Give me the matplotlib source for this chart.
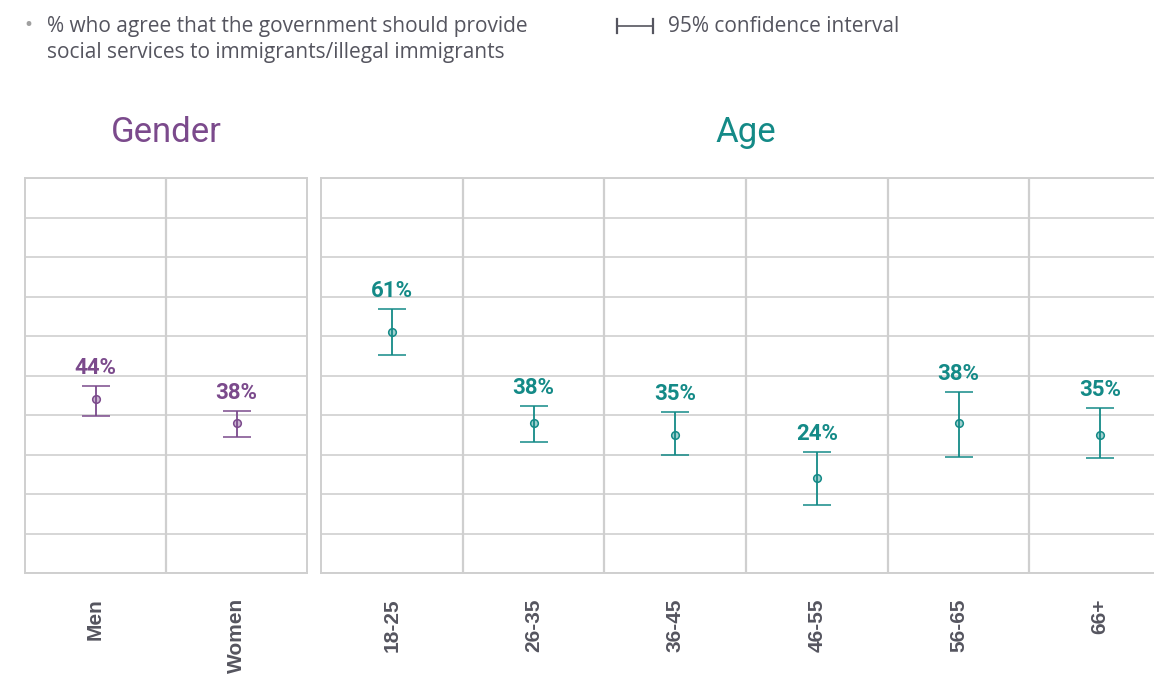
import matplotlib.pyplot as plt
from matplotlib.lines import Line2D

# Data
gender_groups = ["Men", "Women"]
gender_values = [44, 38]
gender_lower = [39.8, 34.4]
gender_upper = [47.3, 41.1]

age_groups = ["18-25", "26-35", "36-45", "46-55", "56-65", "66+"]
age_values = [61, 38, 35, 24, 38, 35]
age_lower = [55.1, 33.1, 29.9, 17.3, 29.3, 29.0]
age_upper = [66.9, 42.3, 40.8, 30.7, 45.8, 41.7]

PURPLE = "#7b4a8c"
TEAL = "#148a87"
GRID = "#cfcfcf"
TEXT = "#55555f"

plt.rcParams["font.family"] = ["Roboto", "DejaVu Sans"]

W, H = 1154, 675
fig = plt.figure(figsize=(W / 100, H / 100), dpi=100)

ax_g = fig.add_axes([25 / W, 102 / H, 282 / W, 395 / H])
ax_a = fig.add_axes([321 / W, 102 / H, 850 / W, 395 / H])


def draw_panel(ax, groups, values, lower, upper, color, title):
    x = list(range(len(groups)))
    yerr = [[v - lo for v, lo in zip(values, lower)],
            [hi - v for v, hi in zip(values, upper)]]
    ax.errorbar(x, values, yerr=yerr, fmt="o", color=color, ecolor=color,
                elinewidth=1.3, capsize=10, capthick=1.3, markersize=5.5,
                markerfacecolor=color + "66", markeredgecolor=color,
                markeredgewidth=1.1, zorder=3)
    for xi, v, hi in zip(x, values, upper):
        ax.annotate(f"{v}%", (xi, hi), xytext=(0, 5), textcoords="offset points",
                    ha="center", va="bottom", fontsize=16, fontweight="bold",
                    color=color)
    ax.set_xlim(-0.5, len(groups) - 0.5)
    ax.set_ylim(0, 100)
    ax.set_yticks(range(0, 101, 10))
    ax.set_yticklabels([])
    ax.set_xticks([i + 0.5 for i in x[:-1]], minor=True)
    ax.set_xticks(x)
    ax.set_xticklabels(groups, rotation=90, fontsize=15, fontweight="bold",
                       color=TEXT, family=["Liberation Sans", "DejaVu Sans"])
    ax.tick_params(axis="both", which="both", length=0)
    ax.tick_params(axis="x", pad=18)
    ax.grid(axis="y", color=GRID, linewidth=1.2)
    ax.grid(axis="x", which="minor", color=GRID, linewidth=1.6)
    for s in ax.spines.values():
        s.set_color(GRID)
        s.set_linewidth(1.4)
    ax.set_title(title, color=color, fontsize=25, pad=26)


draw_panel(ax_g, gender_groups, gender_values, gender_lower, gender_upper,
           PURPLE, "Gender")
draw_panel(ax_a, age_groups, age_values, age_lower, age_upper, TEAL, "Age")

# Header: question text and confidence interval key
fig.text(24 / W, 1 - 25 / H, "\u2022", color="#a0a0a0", fontsize=17,
         va="center", ha="left")
fig.text(47 / W, 1 - 16 / H,
         "% who agree that the government should provide\n"
         "social services to immigrants/illegal immigrants",
         color=TEXT, fontsize=15, va="top", ha="left", linespacing=1.3,
         family=["Open Sans", "DejaVu Sans"])
y_key = 1 - 26 / H
fig.add_artist(Line2D([617 / W, 653 / W], [y_key, y_key], color=TEXT, lw=1.2))
for xk in (617, 653):
    fig.add_artist(Line2D([xk / W, xk / W], [y_key - 7 / H, y_key + 7 / H],
                          color=TEXT, lw=1.6))
fig.text(668 / W, y_key, "95% confidence interval", color=TEXT,
         fontsize=15, va="center", ha="left",
         family=["Open Sans", "DejaVu Sans"])

plt.savefig("out.png", dpi=100)
plt.close()
